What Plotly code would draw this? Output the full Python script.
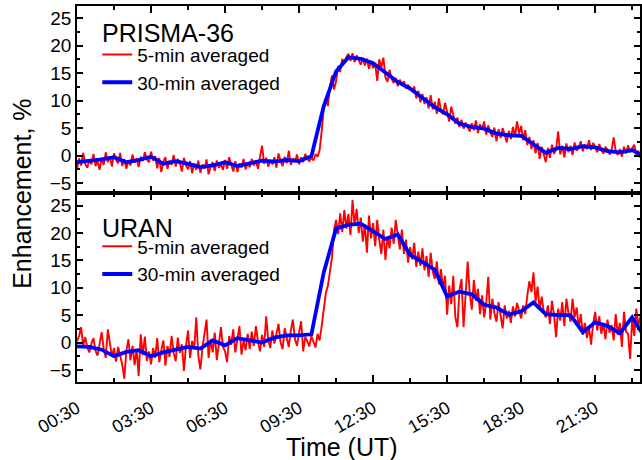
import pandas as pd
import plotly.graph_objects as go
from plotly.subplots import make_subplots

# ---------------- data ----------------
# 5-min averaged enhancement (%), starting 00:30 UT, one value every 5 minutes
prisma_5min = [
    -2.5, -0.5, -1.8, 0.5, -1.5, -2.2, -0.8, -1.6, 0.3, -1.9, -1.0, -2.6,
    -0.4, -1.7, 0.6, -1.2, -0.2, -2.0, 0.4, -0.8, -1.4, 0.5, -1.9, -0.6,
    -2.4, -0.9, -1.8, 0.2, -1.3, -0.5, -2.1, -0.2, -1.0, 0.6, -0.7, -1.2,
    0.7, -0.9, -0.1, -2.3, -0.4, -3.0, -1.1, -0.3, -2.4, -0.9, -1.7, 0.1,
    -2.0, -0.6, -1.3, -2.9, -0.4, -1.8, -2.5, -1.0, -3.2, -1.4, -2.6, -0.9,
    -3.1, -1.6, -2.4, -0.7, -3.4, -2.0, -1.2, -2.8, -0.9, -2.2, -1.5, -2.6,
    -0.8, -2.4, -0.3, -1.7, -2.9, -1.0, -3.0, -1.4, -2.2, -0.6, -2.5, -1.3,
    -2.1, -0.6, -1.8, -0.9, -2.4, -0.2, 1.8, -1.5, -0.4, -2.0, -0.8, -1.6,
    -0.3, -2.2, 0.4, -1.0, -1.9, -0.2, -1.4, 0.9, -1.7, -0.5, -1.1, 0.2,
    -1.6, -0.3, -1.2, 0.3, -0.6, -1.0, -0.4, -0.9, 0.3, -0.2, 1.0, 4.5,
    8.5, 10.4, 9.0, 12.5, 14.6, 12.0, 13.5, 16.3, 15.2, 17.6, 16.8, 17.9,
    18.5, 17.2, 18.6, 17.0, 18.2, 17.4, 16.5, 17.8, 16.4, 17.6, 15.8, 17.2,
    15.9, 16.8, 13.6, 17.5, 16.0, 17.8, 14.2, 13.4, 15.6, 14.0, 13.2, 14.1,
    12.6, 13.8, 12.9, 13.5, 12.2, 12.8, 12.4, 11.6, 12.6, 10.4, 11.8, 9.7,
    11.2, 9.4, 10.6, 8.6, 11.0, 8.4, 9.8, 7.6, 10.4, 8.2, 7.5, 9.6,
    8.0, 6.2, 8.9, 7.1, 5.8, 6.9, 5.2, 6.5, 4.9, 6.0, 5.3, 4.4,
    5.9, 4.6, 6.4, 4.1, 5.7, 4.8, 6.2, 3.8, 5.5, 4.2, 3.4, 5.1,
    2.6, 4.8, 3.2, 5.0, 3.8, 2.4, 4.5, 3.0, 5.2, 3.5, 6.2, 4.0,
    5.4, 2.8, 4.6, 1.9, 3.4, 1.2, 2.8, 0.4, 2.3, -0.6, 1.6, 0.2,
    -1.2, 1.4, -0.4, 2.0, 0.3, 1.1, 4.4, 0.2, 1.8, -0.3, 2.2, 0.6,
    1.8, 0.1, 2.4, 0.9, 1.4, 2.6, 0.8, 2.0, 1.2, 2.8, 1.0, 2.3,
    1.6, 0.6, 2.1, 1.0, 0.4, 1.5, 1.2, 0.2, 1.0, 3.3, 0.8, 0.1,
    1.2, -0.2, 1.6, 0.4, 1.9, 0.6, 1.3, 2.0, 0.2, 0.9, -0.4,
]

uran_5min = [
    0.2, 1.2, 2.8, -0.6, 1.0, -0.9, -1.8, -0.2, 0.8, -1.5, -2.4, -0.4,
    1.9, -1.2, -2.8, 2.4, -0.5, -2.6, -1.0, -3.5, -0.8, -2.2, -4.0, -6.6,
    -1.5, 0.6, -3.2, -0.6, -4.1, -1.2, -6.1, 1.5, -2.3, 1.1, -3.4, -1.6,
    -4.0, -1.0, -2.8, 0.8, -3.6, -1.4, 0.4, -4.2, -0.6, -2.6, 1.2, -1.8,
    -3.4, 0.9, -1.9, -0.3, -5.2, -0.6, 2.2, -2.8, 0.3, -1.2, 4.6, -2.4,
    -4.9, -1.0, 1.6, 4.2, -2.8, 0.6, -1.8, 1.8, -3.2, 0.2, 2.8, -0.8,
    -1.6, -3.6, 1.2, -0.4, 2.4, -1.8, 0.8, 3.0, -2.2, 0.4, -1.4, 1.6,
    -1.2, 2.0, -0.6, 3.0, 0.2, -1.6, 1.4, -0.8, 4.8, 0.4, -1.0, 2.2,
    -0.2, 1.8, 3.4, 0.0, -1.2, 2.6, 0.8, -0.8, 2.2, 4.2, 0.6, -0.6,
    1.8, 3.9, -1.6, 1.0, 0.2, -0.7, 1.2, 0.0, -0.9, 1.6, 0.4, 3.0,
    6.5, 9.0, 10.3, 12.5, 15.5, 20.5, 22.4, 19.8, 23.6, 20.2, 24.2, 20.8,
    23.5, 19.6, 26.0, 21.4, 24.4, 20.0, 22.8, 18.4, 21.6, 16.4, 23.2, 19.0,
    21.8, 17.6, 22.4, 18.8, 16.2, 20.6, 15.1, 19.4, 17.2, 21.0, 18.0, 22.4,
    19.8, 17.0, 20.6, 16.2, 18.8, 14.6, 17.4, 15.2, 18.2, 13.8, 16.6, 14.0,
    17.2, 13.2, 15.8, 12.0, 16.4, 13.0, 11.6, 14.8, 10.6, 13.4, 9.8, 12.2,
    5.1, 10.4, 7.0, 12.2, 4.6, 2.8, 9.6, 11.6, 2.8, 8.2, 14.8, 9.0,
    6.0, 11.4, 7.6, 9.8, 5.2, 8.6, 4.6, 7.2, 12.0, 4.2, 8.0, 5.4,
    3.8, 7.4, 5.0, 2.6, 6.8, 4.4, 5.8, 3.6, 6.6, 4.8, 7.2, 5.6,
    4.4, 6.8, 5.2, 8.6, 11.2, 9.2, 12.8, 7.4, 10.2, 6.0, 8.4, 5.6,
    4.6, 6.8, 3.4, 7.6, 5.0, 1.0, 6.2, 4.0, 7.4, 3.0, 8.0, 5.4,
    3.8, 8.0, 4.6, 6.4, 2.6, 5.2, 1.4, 3.6, 0.8, 2.8, -0.4, 3.4,
    5.6, 2.2, 4.8, 1.6, 3.6, 0.6, 4.2, 1.8, 3.2, 0.4, 5.2, 1.4,
    3.6, -0.8, 5.6, 2.0, 1.6, -3.0, 4.4, 1.2, 6.2, 3.0, 4.8,
]

# 30-min averaged enhancement (%), starting 00:30 UT, one value every 30 minutes
prisma_30min = [
    -1.2, -1.0, -0.7, -0.3, -1.2, -0.8, -0.2, -1.5, -1.0, -1.5,
    -2.1, -1.8, -1.2, -1.9, -1.4, -0.9, -1.1, -0.8, -1.0, -0.1,
    9.0, 15.3, 17.9, 17.6, 16.8, 15.2, 13.4, 12.2, 10.5, 8.8,
    7.5, 5.8, 5.2, 4.9, 4.0, 3.7, 3.6, 2.1, 0.5, 1.4,
    1.2, 1.7, 1.5, 0.8, 0.6, 1.0, -0.2,
]
uran_30min = [
    -0.7, -0.8, -1.3, -2.5, -1.7, -1.4, -2.5, -1.8, -1.3, -0.8,
    -1.1, 0.4, -0.5, 0.8, 0.4, 0.0, 0.9, 1.3, 1.3, 1.5,
    12.8, 20.8, 21.5, 21.7, 20.3, 18.9, 19.7, 16.0, 14.7, 13.3,
    8.4, 9.3, 8.8, 6.9, 6.4, 5.1, 5.7, 7.3, 5.2, 5.0,
    5.0, 1.9, 3.7, 3.0, 1.7, 4.6, 1.0,
]

station_names = ["PRISMA-36", "URAN"]
legend_names = ["5-min averaged", "30-min averaged"]
x_tick_labels = ["00:30", "03:30", "06:30", "09:30", "12:30", "15:30", "18:30", "21:30"]

t5 = pd.date_range("2000-01-01 00:30", periods=len(prisma_5min), freq="5min")
t30 = pd.date_range("2000-01-01 00:30", periods=len(prisma_30min), freq="30min")
tick_times = [pd.Timestamp("2000-01-01 " + s) for s in x_tick_labels]

FONT = "Arial, Liberation Sans, sans-serif"
RED = "#ff0000"
BLUE = "#0000ff"

fig = make_subplots(rows=2, cols=1, shared_xaxes=True, vertical_spacing=0,
                    row_heights=[187, 189])

for row, (s5, s30, leg) in enumerate([(prisma_5min, prisma_30min, "legend"),
                                      (uran_5min, uran_30min, "legend2")], start=1):
    fig.add_trace(go.Scatter(x=t5, y=s5, mode="lines", name=legend_names[0],
                             line=dict(color=RED, width=1.9), legend=leg), row=row, col=1)
    fig.add_trace(go.Scatter(x=t30, y=s30, mode="lines", name=legend_names[1],
                             line=dict(color=BLUE, width=3.8), legend=leg), row=row, col=1)

xcommon = dict(
    type="date",
    range=["2000-01-01 00:30", "2000-01-01 23:19"],
    tickmode="array", tickvals=tick_times, ticktext=x_tick_labels,
    ticks="inside", ticklen=7, tickwidth=1.5, tickcolor="black",
    minor=dict(dtick=90 * 60 * 1000, tick0="2000-01-01 00:30", ticks="inside",
               ticklen=4, tickwidth=1.5, tickcolor="black", showgrid=False),
    showline=True, linewidth=1.5, linecolor="black", mirror="ticks",
    showgrid=False, zeroline=False, automargin=False,
    tickfont=dict(family=FONT, size=18, color="black"), tickangle=-30,
    ticklabelstandoff=7,
)
fig.update_xaxes(**xcommon)
fig.update_xaxes(showticklabels=False, row=1, col=1)

ycommon = dict(
    tickmode="linear", tick0=0, dtick=5,
    ticks="inside", ticklen=6, tickwidth=1.5, tickcolor="black",
    minor=dict(dtick=2.5, ticks="inside", ticklen=3, tickwidth=1.5,
               tickcolor="black", showgrid=False),
    showline=True, linewidth=1.5, linecolor="black", mirror="ticks",
    showgrid=False, zeroline=False, automargin=False,
    tickfont=dict(family=FONT, size=19, color="black"),
)
fig.update_yaxes(**ycommon)
fig.update_yaxes(range=[-6.8, 27.2], row=1, col=1)
fig.update_yaxes(range=[-7.2, 27.3], row=2, col=1)

legend_style = dict(font=dict(family=FONT, size=19, color="black"),
                    bgcolor="rgba(0,0,0,0)", borderwidth=0,
                    xanchor="left", yanchor="top", tracegroupgap=0,
                    itemwidth=30)

fig.update_layout(
    width=642, height=460,
    margin=dict(l=77, r=2, t=6, b=78),
    paper_bgcolor="white", plot_bgcolor="white",
    showlegend=True,
    legend=dict(x=0.036, y=0.921, **legend_style),
    legend2=dict(x=0.036, y=0.411, **legend_style),
    annotations=[
        dict(text=station_names[0], x=0.04, y=(382 - 33) / 376, xref="paper", yref="paper",
             xanchor="left", yanchor="middle", showarrow=False,
             font=dict(family=FONT, size=25, color="black")),
        dict(text=station_names[1], x=0.04, y=(382 - 228) / 376, xref="paper", yref="paper",
             xanchor="left", yanchor="middle", showarrow=False,
             font=dict(family=FONT, size=25, color="black")),
        dict(text="Enhancement, %", x=-0.098, y=0.5, xref="paper", yref="paper",
             xanchor="center", yanchor="middle", textangle=-90, showarrow=False,
             font=dict(family=FONT, size=25, color="black")),
        dict(text="Time (UT)", x=0.47, y=-0.174, xref="paper", yref="paper",
             xanchor="center", yanchor="middle", showarrow=False,
             font=dict(family=FONT, size=25, color="black")),
    ],
)

fig.write_html(
    "out.html",
    config={"responsive": False, "displayModeBar": False},
    post_script="document.body.style.margin='0';document.body.style.padding='0';"
                "document.body.style.overflow='hidden';"
                "document.documentElement.style.overflow='hidden';",
)
